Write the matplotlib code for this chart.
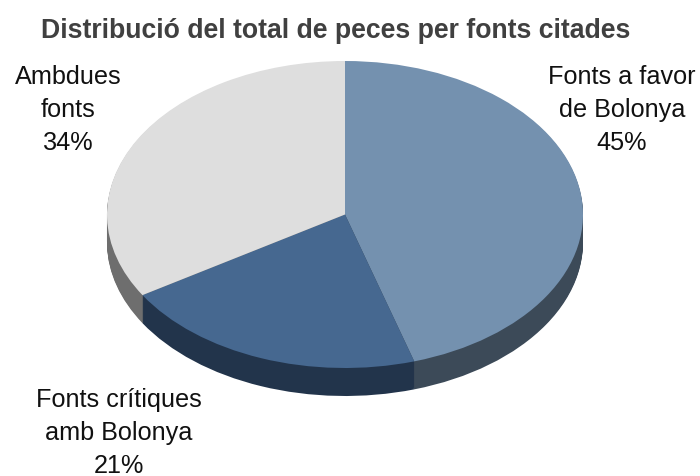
import matplotlib
matplotlib.use("Agg")
import matplotlib.pyplot as plt

plt.rcParams['font.family'] = ['Liberation Sans', 'DejaVu Sans']

# ---------- Data ----------
labels = ["Fonts a favor\nde Bolonya\n45%", "Fonts crítiques\namb Bolonya\n21%", "Ambdues\nfonts\n34%"]
values = [45.3, 20.9, 33.8]
top_colors = ["#7491AF", "#466890", "#DEDEDE"]
side_colors = ["#3C4A58", "#22344B", "#6E6E6E"]
title = "Distribució del total de peces per fonts citades"

# ---------- Layout, pixels ----------
W, H = 700, 477
cx, cy, rx, ry = 345, 215.5, 238, 153.5
depth = 28

fig = plt.figure(figsize=(W / 100, H / 100), dpi=100)
ax = fig.add_axes([0, 0, 1, 1])

# side wall: stack of dark pies, lowest first
for d in range(depth, 0, -1):
    ax.pie(values, startangle=90, counterclock=False, colors=side_colors,
           center=(0, -d / ry), radius=1)
ax.pie(values, startangle=90, counterclock=False, colors=top_colors, radius=1)

ax.set_aspect('auto')
ax.set_xlim(-cx / rx, (W - cx) / rx)
ax.set_ylim((cy - H) / ry, cy / ry)
ax.axis('off')

fig.text(336 / W, 1 - 31 / H, title, ha='center', va='center',
         fontsize=19.2, fontweight='bold', color='#404040')

label_pos = [(622, 110), (119, 433), (68, 110)]
for text, (x, y) in zip(labels, label_pos):
    fig.text(x / W, 1 - y / H, text, ha='center', va='center', fontsize=18.2,
             color='#111111', linespacing=1.47)

fig.savefig("out.png", dpi=100)
